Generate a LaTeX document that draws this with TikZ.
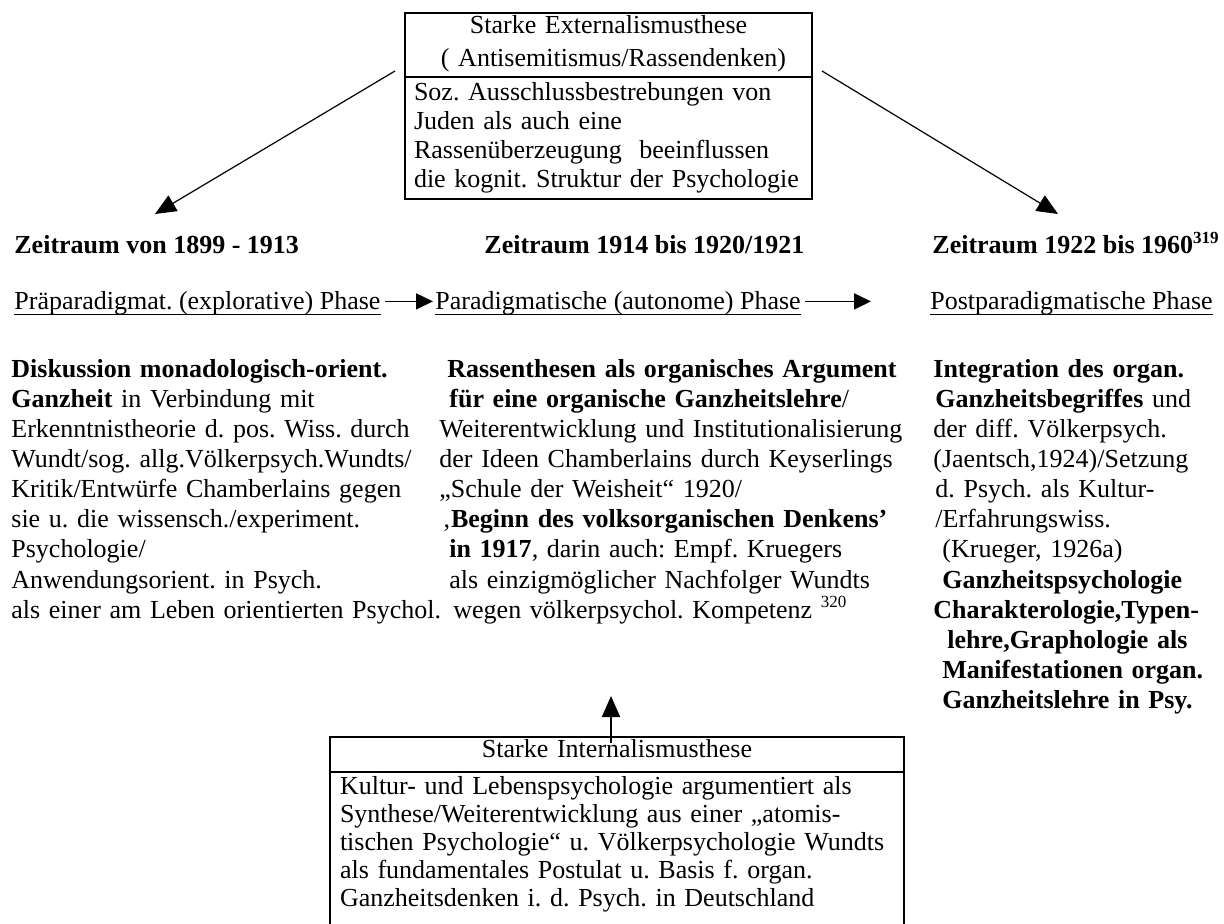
\documentclass[tikz,border=0pt]{standalone}
\usepackage{fontspec}
\setmainfont{Liberation Serif}
\frenchspacing
\usetikzlibrary{positioning}
\usetikzlibrary{arrows.meta}
\newcommand{\supnum}[1]{\raisebox{5pt}{\fontsize{8.5}{8.5}\selectfont #1}}
\tikzset{
    txt/.style={ % plain text, placed on its baseline
    inner sep=0pt,
    anchor=base west,
    font=\fontsize{13}{15}\selectfont},
    hdr/.style={txt, font=\fontsize{13}{15}\selectfont\bfseries},
    coltext/.style={txt, align=left},
    boxpart/.style={ % one part of a framed box
    draw,
    line width=0.9pt,
    inner xsep=5pt, inner ysep=0pt, outer sep=0pt,
    anchor=north west,
    font=\fontsize{13}{14}\selectfont},
    uline/.style={line width=0.55pt},
    bigarrow/.style={line width=0.6pt, -{Triangle[length=10.5pt,width=9pt]}},
    phasearrow/.style={line width=0.8pt, -{Triangle[length=8.5pt,width=8pt]}}}

\begin{document}
\begin{tikzpicture}[x=0.5pt, y=-0.5pt]
        \useasboundingbox (0,0) rectangle (1224,924);

        % Top box: external thesis
        \node[boxpart, text width=194.5pt, inner xsep=4.5pt, align=center, text height=10.5pt, text depth=21.5pt,
            font=\fontsize{13}{16.5}\selectfont] (extTitle) at (405,13)
            {Starke Externalismusthese\hspace*{4pt}\\\hspace*{5pt}( Antisemitismus/Rassendenken)};
        \node[boxpart, below=0pt of extTitle, text width=194.5pt, inner xsep=4.5pt, align=left, text height=12pt, text depth=49pt,
            font=\fontsize{13}{14.5}\selectfont] (extBody)
            {Soz. Ausschlussbestrebungen von\\Juden als auch eine\\Rassenüberzeugung\ \ beeinflussen\\\mbox{die kognit. Struktur der Psychologie}};

        % Periods
        \node[hdr] (hdrA) at (14,254) {Zeitraum von 1899 - 1913};
        \node[hdr] (hdrB) at (484,254) {Zeitraum 1914 bis 1920/1921};
        \node[hdr] (hdrC) at (932,254) {Zeitraum 1922 bis 1960\supnum{\bfseries 319}};

        % Phases
        \node[txt] (phaseA) at (14,310) {Präparadigmat. (explorative) Phase};
        \node[txt] (phaseB) at (435,310) {Paradigmatische (autonome) Phase};
        \node[txt] (phaseC) at (930,310) {Postparadigmatische Phase};
        \foreach \p in {phaseA, phaseB, phaseC} {
                \draw[uline] ([yshift=-2.2pt]\p.base west) -- ([yshift=-2.2pt]\p.base east);
            }
        \draw[phasearrow] ([xshift=2pt,yshift=4.3pt]phaseA.base east) -- ([xshift=-1pt,yshift=4.3pt]phaseB.base west);
        \draw[phasearrow] ([xshift=2pt,yshift=4.3pt]phaseB.base east) -- ([xshift=-29.5pt,yshift=4.3pt]phaseC.base west);

        % Column texts
        \node[coltext, text width=225pt] (colA) at (11,378)
            {\textbf{Diskussion monadologisch-orient.}\\
            \textbf{Ganzheit} in Verbindung mit\\
            Erkenntnistheorie d. pos. Wiss. durch\\
            Wundt/sog. allg.Völkerpsych.Wundts/\\
            Kritik/Entwürfe Chamberlains gegen\\
            sie u. die wissensch./experiment.\\
            Psychologie/\\
            Anwendungsorient. in Psych.\\
            als einer am Leben orientierten Psychol.};
        \node[coltext, text width=240pt] (colB) at (439,378)
            {\hspace*{4pt}\textbf{Rassenthesen als organisches Argument}\\
            \hspace*{5pt}\textbf{für eine organische Ganzheitslehre}/\\
            Weiterentwicklung und Institutionalisierung\\
            der Ideen Chamberlains durch Keyserlings\\
            „Schule der Weisheit“ 1920/\\
            \hspace*{1.5pt}‚\textbf{Beginn des volksorganischen Denkens’}\\
            \hspace*{5pt}\textbf{in 1917}, darin auch: Empf. Kruegers\\
            \hspace*{5pt}als einzigmöglicher Nachfolger Wundts\\
            \hspace*{7pt}wegen völkerpsychol. Kompetenz \supnum{320}};
        \node[coltext, text width=142pt] (colC) at (933,378)
            {\textbf{Integration des organ.}\\
            \hspace*{1pt}\textbf{Ganzheitsbegriffes} und\\
            der diff. Völkerpsych.\\
            (Jaentsch,1924)/Setzung\\
            \hspace*{1pt}d. Psych. als Kultur-\\
            \hspace*{1pt}/Erfahrungswiss.\\
            \hspace*{4.5pt}(Krueger, 1926a)\\
            \hspace*{4.5pt}\textbf{Ganzheitspsychologie}\\
            \textbf{Charakterologie,Typen-}\\
            \hspace*{7pt}\textbf{lehre,Graphologie als}\\
            \hspace*{4.5pt}\textbf{Manifestationen organ.}\\
            \hspace*{4.5pt}\textbf{Ganzheitslehre in Psy.}};

        % Bottom box: internal thesis
        \node[boxpart, text width=277pt, align=center, text height=10pt, text depth=7.5pt] (intTitle) at (330,737)
            {Starke Internalismusthese};
        \node[boxpart, below=0pt of intTitle, text width=277pt, align=left, text height=11pt, text depth=70.5pt] (intBody)
            {Kultur- und Lebenspsychologie argumentiert als\\
            Synthese/Weiterentwicklung aus einer „atomis-\\
            tischen Psychologie“ u. Völkerpsychologie Wundts\\
            als fundamentales Postulat u. Basis f. organ.\\
            Ganzheitsdenken i. d. Psych. in Deutschland};

        % Arrows
        \coordinate (tipA) at (155,214);
        \coordinate (tipC) at (1058,214);
        \coordinate (tipB) at (611,696);
        \draw[bigarrow] ([xshift=-5pt,yshift=3pt]extTitle.south west) -- (tipA);
        \draw[bigarrow] ([xshift=5pt,yshift=3pt]extTitle.south east) -- (tipC);
        \draw[bigarrow, line width=1pt] ([xshift=-3pt,yshift=-3pt]intTitle.north) -- (tipB);

    \end{tikzpicture}
\end{document}
